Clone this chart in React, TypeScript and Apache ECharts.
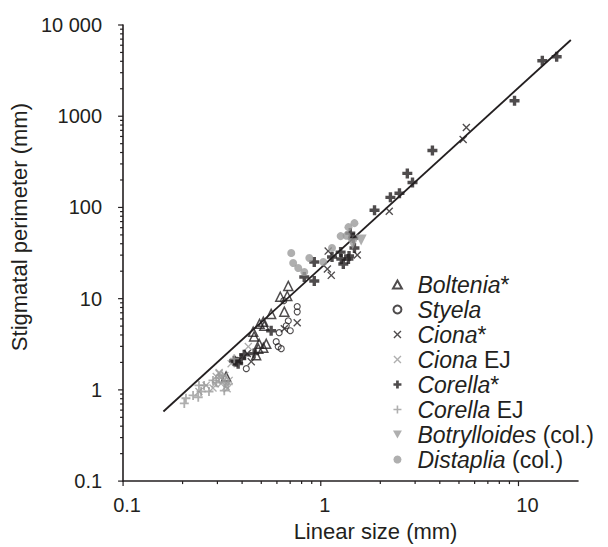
import React, { useEffect, useRef } from 'react';
import * as echarts from 'echarts';

const FONT = "'Liberation Sans', Arial, Helvetica, sans-serif";
const INK = '#231f20';
const GREY = '#9b9b9b';

// ---- data (linear size mm, stigmatal perimeter mm) ----
const boltenia = [[0.685, 13.8], [0.677, 10.7], [0.624, 10.5], [0.654, 7.2], [0.561, 6.8], [0.512, 5.6], [0.518, 5.05], [0.49, 5.3], [0.455, 4.35], [0.46, 3.85], [0.488, 3.2], [0.53, 3.2], [0.512, 2.9], [0.483, 2.83], [0.471, 2.4], [0.332, 1.4]];
const styela = [[0.65, 9.5], [0.76, 8.2], [0.76, 7.17], [0.685, 5.72], [0.669, 5.05], [0.701, 4.45], [0.616, 4.24], [0.595, 3.38], [0.609, 2.98], [0.631, 2.83], [0.42, 1.71]];
const cionaStar = [[5.45, 751], [5.25, 555], [2.22, 91], [1.09, 33.2], [1.53, 30.1], [1.08, 21.1], [1.13, 18.0], [0.76, 5.45], [0.654, 4.68], [0.425, 2.5], [0.445, 2.04], [0.382, 2.09]];
const cionaEJ = [[0.43, 2.98], [0.352, 1.94], [0.321, 1.27], [0.306, 1.51], [0.296, 1.4], [0.313, 1.17], [0.332, 1.09], [0.285, 1.05], [0.263, 1.12], [0.242, 0.96], [0.306, 1.55], [0.327, 1.44], [0.344, 1.27], [0.336, 1.03], [0.292, 1.17]];
const corellaStar = [[15.6, 4480], [13.2, 4050], [9.55, 1480], [3.67, 421], [2.74, 236], [2.91, 188], [2.5, 143], [2.25, 129], [1.87, 93], [1.41, 52.3], [1.46, 46.1], [1.48, 35.9], [1.26, 32.4], [1.27, 27.2], [1.3, 24], [1.38, 27.2], [1.39, 29.3], [1.14, 28.6], [0.927, 25.2], [0.825, 17.3], [0.927, 15.6], [0.561, 4.45], [0.46, 2.5], [0.41, 2.43], [0.396, 2.2], [0.365, 2.09], [0.373, 2.04], [0.382, 1.94]];
const corellaEJ = [[0.204, 0.71], [0.208, 0.81], [0.226, 0.87], [0.24, 0.83], [0.248, 0.96], [0.272, 0.96], [0.242, 1.12], [0.257, 1.12], [0.285, 1.27], [0.296, 1.2], [0.306, 1.35], [0.325, 0.98], [0.33, 1.2], [0.365, 2.2], [0.318, 1.42], [0.34, 1.15]];
const botrylloides = [[1.6, 44], [1.45, 40]];
const distaplia = [[1.48, 67.3], [1.38, 60.8], [1.26, 48.5], [1.35, 49], [0.709, 31.6], [0.725, 24.6], [0.769, 21.7], [0.825, 19.6], [0.875, 27.9], [1.03, 25.2], [1.14, 35.9]];
const fitLine = [[0.16, 0.58], [18.4, 6850]];

// ---- axes ----
const xMajorTicks = [0.1, 1, 10];
const xMinorTicks = [0.2, 0.3, 0.4, 0.5, 0.6, 0.7, 0.8, 0.9, 2, 3, 4, 5, 6, 7, 8, 9];
const yMajorTicks = [0.1, 1, 10, 100, 1000, 10000];
const yMinorTicks = [0.2, 0.3, 0.4, 0.5, 0.6, 0.7, 0.8, 0.9, 2, 3, 4, 5, 6, 7, 8, 9, 20, 30, 40, 50, 60, 70, 80, 90, 200, 300, 400, 500, 600, 700, 800, 900, 2000, 3000, 4000, 5000, 6000, 7000, 8000, 9000];
const xTickLabels = ['0.1', '1', '10'];
const yTickLabels = ['0.1', '1', '10', '100', '1000', '10 000'];

const legendNames = ['Boltenia*', 'Styela', 'Ciona*', 'Ciona EJ', 'Corella*', 'Corella EJ', 'Botrylloides (col.)', 'Distaplia (col.)'];

const CROSS_X = 'path://M0,1.2 L1.2,0 L5,3.8 L8.8,0 L10,1.2 L6.2,5 L10,8.8 L8.8,10 L5,6.2 L1.2,10 L0,8.8 L3.8,5 Z';
const PLUS_BOLD = 'path://M3.3,0 H6.7 V3.3 H10 V6.7 H6.7 V10 H3.3 V6.7 H0 V3.3 H3.3 Z';
const PLUS_THIN = 'path://M4,0 H6 V4 H10 V6 H6 V10 H4 V6 H0 V4 H4 Z';
const TRI_UP = 'path://M5,0 L10,9 L0,9 Z';
const TRI_DOWN = 'path://M0,0 L10,0 L5,9 Z';

function labelIndex(v: number) {
  const l = Math.log10(v);
  const e = Math.round(l);
  if (Math.abs(l - e) > 1e-6) return -1;
  return e + 1;
}

export default function App() {
  const ref = useRef<HTMLDivElement>(null);
  useEffect(() => {
    if (!ref.current) return;
    const chart = echarts.init(ref.current, undefined, { renderer: 'svg' });
    const tickData = [
      ...xMajorTicks.map((v) => [v, 0.1, 0, 5]),
      ...xMinorTicks.map((v) => [v, 0.1, 0, 3]),
      ...yMajorTicks.map((v) => [0.1, v, 1, 5]),
      ...yMinorTicks.map((v) => [0.1, v, 1, 3]),
    ];
    const scatter = (name: string, data: number[][], symbol: string, size: number, itemStyle: any) => ({
      name,
      type: 'scatter',
      data,
      symbol,
      symbolSize: size,
      itemStyle,
      z: 2,
    });
    chart.setOption({
      animation: false,
      grid: { left: 122, right: 30, top: 25, bottom: 64, containLabel: false },
      xAxis: {
        type: 'log',
        logBase: 10,
        min: 0.1,
        max: 20,
        name: 'Linear size (mm)',
        nameLocation: 'middle',
        nameGap: 38,
        nameTextStyle: { fontFamily: FONT, fontSize: 22, color: INK, padding: [0, 0, 0, 50] },
        axisLine: { show: true, onZero: false, lineStyle: { color: INK, width: 1.6 } },
        axisTick: { show: false },
        splitLine: { show: false },
        axisLabel: {
          margin: 14,
          fontFamily: FONT,
          fontSize: 20,
          color: INK,
          formatter: (v: number) => {
            const i = labelIndex(v);
            if (i < 0 || i >= xTickLabels.length) return '';
            return i === 2 ? `{b|${xTickLabels[i]}}` : `{a|${xTickLabels[i]}}`;
          },
          rich: {
            a: { fontFamily: FONT, fontSize: 20, color: INK, padding: [0, 0, 0, 8] },
            b: { fontFamily: FONT, fontSize: 20, color: INK, padding: [0, 0, 0, 18] },
          },
        },
      },
      yAxis: {
        type: 'log',
        logBase: 10,
        min: 0.1,
        max: 10000,
        name: 'Stigmatal perimeter (mm)',
        nameLocation: 'middle',
        nameGap: 88,
        nameTextStyle: { fontFamily: FONT, fontSize: 22, color: INK, padding: [0, 0, 0, 52] },
        axisLine: { show: true, onZero: false, lineStyle: { color: INK, width: 1.6 } },
        axisTick: { show: false },
        splitLine: { show: false },
        axisLabel: {
          margin: 21,
          fontFamily: FONT,
          fontSize: 20,
          color: INK,
          formatter: (v: number) => {
            const i = labelIndex(v);
            return i < 0 ? '' : yTickLabels[i] ?? '';
          },
        },
      },
      legend: {
        data: legendNames,
        orient: 'vertical',
        left: 387,
        top: 268,
        itemWidth: 30,
        itemHeight: 8,
        itemGap: 2,
        selectedMode: false,
        formatter: (name: string) => {
          const m = name.match(/^([A-Za-z]+)(.*)$/);
          if (!m) return name;
          const rest = m[2];
          return rest ? `{i|${m[1]}}{n|${rest}}` : `{i|${m[1]}}`;
        },
        textStyle: {
          fontFamily: FONT,
          fontSize: 23,
          color: INK,
          rich: {
            i: { fontFamily: FONT, fontSize: 23, fontStyle: 'italic', color: INK, lineHeight: 23 },
            n: { fontFamily: FONT, fontSize: 23, color: INK, lineHeight: 23 },
          },
        },
      },
      series: [
        {
          type: 'line',
          data: fitLine,
          symbol: 'none',
          lineStyle: { color: INK, width: 1.8 },
          z: 1,
          silent: true,
        },
        scatter('Boltenia*', boltenia, TRI_UP, 9, { color: 'rgba(0,0,0,0)', borderColor: INK, borderWidth: 1.5 }),
        scatter('Styela', styela, 'circle', 6, { color: 'rgba(0,0,0,0)', borderColor: INK, borderWidth: 1.1 }),
        scatter('Ciona*', cionaStar, CROSS_X, 8, { color: INK }),
        scatter('Ciona EJ', cionaEJ, CROSS_X, 8, { color: GREY }),
        scatter('Corella*', corellaStar, PLUS_BOLD, 10, { color: INK }),
        scatter('Corella EJ', corellaEJ, PLUS_THIN, 9, { color: GREY }),
        scatter('Botrylloides (col.)', botrylloides, TRI_DOWN, 11, { color: GREY }),
        scatter('Distaplia (col.)', distaplia, 'circle', 8, { color: GREY }),
        {
          type: 'custom',
          data: tickData,
          encode: { x: 0, y: 1 },
          clip: false,
          silent: true,
          z: 5,
          renderItem: (params: any, api: any) => {
            const kind = api.value(2);
            const len = api.value(3);
            const p = api.coord([api.value(0), api.value(1)]);
            const shape = kind === 0
              ? { x1: p[0], y1: p[1], x2: p[0], y2: p[1] + len }
              : { x1: p[0] - len, y1: p[1], x2: p[0], y2: p[1] };
            return { type: 'line', shape, style: { stroke: INK, lineWidth: 1.2 } };
          },
        },
      ],
    });
    return () => chart.dispose();
  }, []);
  return <div ref={ref} style={{ position: 'fixed', left: 0, top: 0, width: 608, height: 547, background: '#fff' }} />;
}
